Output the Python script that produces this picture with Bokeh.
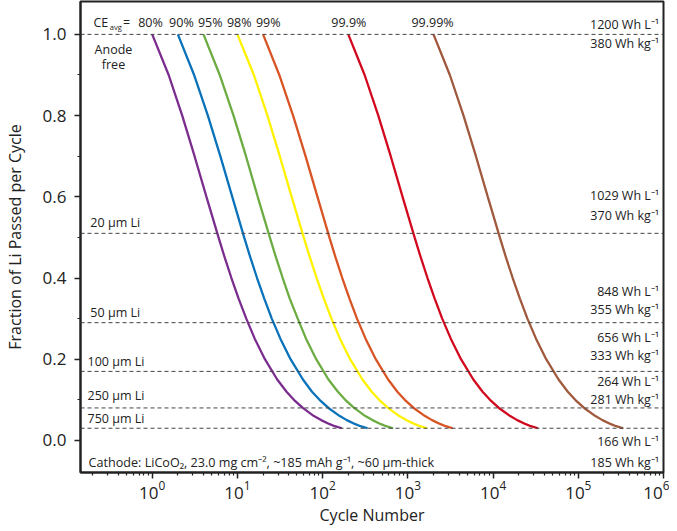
from bokeh.plotting import figure
from bokeh.models import FixedTicker, PrintfTickFormatter, Label, Span
from bokeh.embed import file_html
from bokeh.resources import INLINE

FONT = "Open Sans"

# ---- data ----
frac_levels = [1.0, 0.9, 0.8, 0.7, 0.6, 0.5, 0.45, 0.4, 0.35, 0.3, 0.25, 0.2,
               0.15, 0.12, 0.1, 0.08, 0.06, 0.05, 0.04, 0.035, 0.03]
ce_labels = ["80%", "90%", "95%", "98%", "99%", "99.9%", "99.99%"]
ce_colors = ["#7b2d8e", "#0a72ba", "#6cac43", "#fff200", "#d95424", "#d2091e", "#a0593d"]
cycles_80 = [1.0, 1.56, 2.25, 3.14, 4.33, 6.0, 7.1, 8.5, 10.3, 12.7, 16.0, 21.0,
             29.3, 37.7, 46, 58.5, 79, 96, 121, 139, 168]
cycles_90 = [2.0, 3.1, 4.5, 6.3, 8.7, 12, 14.2, 17, 20.6, 25.3, 32, 42,
             58.7, 75, 92, 117, 159, 192, 242, 278, 336]
cycles_95 = [4.0, 6.2, 9.0, 12.6, 17.3, 24, 28.4, 34, 41, 51, 64, 84,
             117, 151, 184, 234, 317, 384, 484, 556, 672]
cycles_98 = [10, 15.6, 22.5, 31.4, 43.3, 60, 71, 85, 103, 127, 160, 210,
             293, 377, 460, 585, 793, 960, 1210, 1390, 1680]
cycles_99 = [20, 31, 45, 63, 87, 120, 142, 170, 206, 253, 320, 420,
             587, 753, 920, 1170, 1590, 1920, 2420, 2780, 3360]
cycles_999 = [200, 311, 450, 629, 867, 1200, 1420, 1700, 2060, 2530, 3200, 4200,
              5870, 7530, 9200, 11700, 15900, 19200, 24200, 27800, 33600]
cycles_9999 = [2000, 3110, 4500, 6290, 8670, 12000, 14200, 17000, 20600, 25300, 32000, 42000,
               58700, 75300, 92000, 117000, 159000, 192000, 242000, 278000, 336000]
all_cycles = [cycles_80, cycles_90, cycles_95, cycles_98, cycles_99, cycles_999, cycles_9999]
ce_label_x = [0.955, 2.2, 4.8, 10.5, 23, 203, 1950]

li_levels = [1.0, 0.51, 0.29, 0.17, 0.08, 0.03]
li_labels = ["20 µm Li", "50 µm Li", "100 µm Li", "250 µm Li", "750 µm Li"]
li_label_x = [0.188, 0.188, 0.174, 0.174, 0.174]
li_label_y = [0.537, 0.315, 0.195, 0.111, 0.054]

energy_labels = ["1200 Wh L⁻¹", "380 Wh kg⁻¹", "1029 Wh L⁻¹", "370 Wh kg⁻¹",
                 "848 Wh L⁻¹", "355 Wh kg⁻¹", "656 Wh L⁻¹", "333 Wh kg⁻¹",
                 "264 Wh L⁻¹", "281 Wh kg⁻¹", "166 Wh L⁻¹", "185 Wh kg⁻¹"]
energy_y = [1.025, 0.978, 0.603, 0.554, 0.367, 0.323, 0.254, 0.209, 0.145, 0.101, -0.002, -0.054]

x_major = [1e0, 1e1, 1e2, 1e3, 1e4, 1e5, 1e6]
y_major = [0.0, 0.2, 0.4, 0.6, 0.8, 1.0]
y_minor = [0.1, 0.3, 0.5, 0.7, 0.9]

# ---- figure ----
p = figure(width=669, height=531, x_axis_type="log",
           x_range=(0.144, 1e6), y_range=(-0.079, 1.081),
           output_backend="svg", toolbar_location=None,
           min_border_left=80, min_border_right=6, min_border_top=1, min_border_bottom=59)
p.grid.visible = False
p.background_fill_color = "white"
p.border_fill_color = "white"
p.outline_line_color = "#222222"
p.outline_line_width = 2

x_minor = []
for d in range(-1, 6):
    for k in range(2, 10):
        v = k * 10.0 ** d
        if 0.144 <= v <= 1e6:
            x_minor.append(v)
p.xaxis.ticker = FixedTicker(ticks=x_major, minor_ticks=x_minor)
p.yaxis.ticker = FixedTicker(ticks=y_major, minor_ticks=y_minor)
p.yaxis.formatter = PrintfTickFormatter(format="%.1f")

for ax in (p.xaxis, p.yaxis):
    ax.axis_line_width = 2
    ax.axis_line_color = "#222222"
    ax.major_tick_line_color = "#222222"
    ax.minor_tick_line_color = "#222222"
    ax.major_tick_line_width = 1.5
    ax.minor_tick_line_width = 1.2
    ax.major_tick_in = 0
    ax.major_tick_out = 6
    ax.minor_tick_in = 0
    ax.minor_tick_out = 3
    ax.major_label_text_font = FONT
    ax.major_label_text_color = "#222222"
    ax.axis_label_text_font = FONT
    ax.axis_label_text_font_style = "normal"
    ax.axis_label_text_color = "#222222"
    ax.axis_label_text_font_size = "16px"
p.xaxis.major_label_text_font_size = "17px"
p.yaxis.major_label_text_font_size = "17px"
p.xaxis.major_label_standoff = 2
p.xaxis.axis_label = "Cycle Number"
p.xaxis.axis_label_standoff = 2
p.yaxis.major_label_standoff = 8
p.yaxis.axis_label = "Fraction of Li Passed per Cycle"
p.yaxis.axis_label_standoff = 14

# dashed reference lines
for lv in li_levels:
    p.add_layout(Span(location=lv, dimension="width", line_color="#444444",
                      line_width=1, line_dash="4 3"))

# curves
for cyc, col in zip(all_cycles, ce_colors):
    p.line(cyc, frac_levels, line_color=col, line_width=2.3)

def lab(x, y, text, size="12px", align="left", baseline="middle"):
    p.add_layout(Label(x=x, y=y, text=text, text_font=FONT, text_font_size=size,
                       text_color="#222222", text_align=align, text_baseline=baseline))

# CE labels
lab(0.204, 1.03, "CE", "12.5px")
lab(0.318, 1.017, "avg", "7.5px")
lab(0.5, 1.03, "=", "12.5px", align="center")
for xx, t in zip(ce_label_x, ce_labels):
    lab(xx, 1.03, t, "12.5px", align="center")

lab(0.351, 0.963, "Anode", "12.5px", align="center")
lab(0.351, 0.926, "free", "12.5px", align="center")

for xx, yy, t in zip(li_label_x, li_label_y, li_labels):
    lab(xx, yy, t, "12.5px")

for yy, t in zip(energy_y, energy_labels):
    lab(890000, yy, t, "12.5px", align="right")

lab(0.179, -0.054, "Cathode: LiCoO₂, 23.0 mg cm⁻², ~185 mAh g⁻¹, ~60 µm-thick", "12.6px")

open("out.html", "w").write(file_html(p, INLINE))
